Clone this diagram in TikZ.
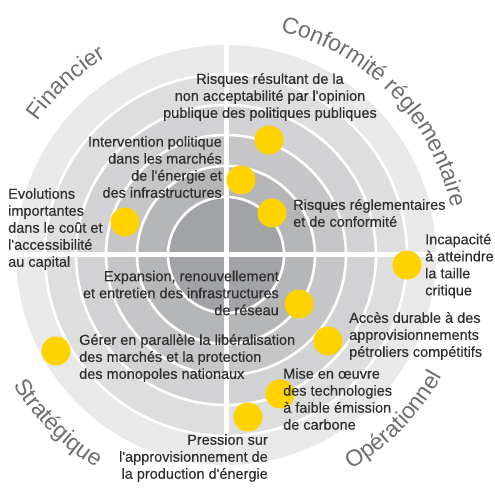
\documentclass[tikz,border=0pt]{standalone}
\usepackage{fontspec}
\setmainfont{Liberation Sans}[Ligatures=TeXOff]
\newfontfamily\riskfont{Liberation Sans}[Ligatures=TeXOff, FakeBold=0.35]
\usetikzlibrary{decorations.text}

\definecolor{eyyellow}{HTML}{FFD200}
\definecolor{ringA}{HTML}{A2A3A6}
\definecolor{ringB}{HTML}{B5B6B8}
\definecolor{ringC}{HTML}{C6C6C8}
\definecolor{ringD}{HTML}{D2D2D4}
\definecolor{ringE}{HTML}{DEDEDF}
\definecolor{ringF}{HTML}{E9E9EA}
\definecolor{txtgray}{HTML}{2E2E2E}
\definecolor{catgray}{HTML}{6D6E71}

\begin{document}
\begin{tikzpicture}[x=1pt, y=1pt,
    riskdot/.style={circle, fill=eyyellow, minimum size=29pt, inner sep=0pt},
    risktext/.style={text=txtgray, font=\riskfont\fontsize{14.5}{17}\selectfont, inner sep=0pt},
    catlabel/.style={decorate, decoration={text along path, text align=center, text color=catgray}}]
    \useasboundingbox (0,0) rectangle (495,487);
    \coordinate (ctr) at (226,232);

    % Draw the rings, outside first
    \fill[ringF] (ctr) circle (210pt);
    \fill[ringE] (ctr) circle (181pt);
    \fill[ringD] (ctr) circle (150pt);
    \fill[ringC] (ctr) circle (120pt);
    \fill[ringB] (ctr) circle (89pt);
    \fill[ringA] (ctr) circle (58pt);

    % White rings and cross
    \foreach \r in {58,89,120,150,181}
        \draw[white, line width=2.6pt] (ctr) circle (\r pt);
    \draw[white, line width=5pt] (226,22) -- (226,442);
    \draw[white, line width=5pt] (16,232) -- (436,232);

    % Category labels round the outside
    \path[catlabel, decoration={text={|\fontsize{23}{23}\selectfont|Financier}}]
        ([shift={(178:231pt)}]ctr) arc[start angle=178, end angle=88, radius=231pt];
    \path[catlabel, decoration={text={|\fontsize{23}{23}\selectfont|Conformité réglementaire}}]
        ([shift={(108:230pt)}]ctr) arc[start angle=108, end angle=-20, radius=230pt];
    \path[catlabel, decoration={text={|\fontsize{23}{23}\selectfont|Stratégique}}]
        ([shift={(180:249pt)}]ctr) arc[start angle=180, end angle=270, radius=249pt];
    \path[catlabel, decoration={text={|\fontsize{23}{23}\selectfont|Opérationnel}}]
        ([shift={(270:248pt)}]ctr) arc[start angle=270, end angle=361, radius=248pt];

    % Risk dots
    \node[riskdot] (opinion) at (269,347) {};
    \node[riskdot] (politique) at (241,307) {};
    \node[riskdot] (reglement) at (272,274) {};
    \node[riskdot] (capital) at (125,265) {};
    \node[riskdot] (taille) at (407,222) {};
    \node[riskdot] (reseau) at (299,183) {};
    \node[riskdot] (petrole) at (328,146) {};
    \node[riskdot] (monopole) at (56,136) {};
    \node[riskdot] (carbone) at (280,93) {};
    \node[riskdot] (pression) at (248,70) {};

    % Risk texts
    \node[risktext, align=center] (opiniontxt) at (270,390)
        {Risques résultant de la\\non acceptabilité par l'opinion\\publique des politiques publiques};
    \node[risktext, align=right, anchor=east] (politiquetxt) at (222,320)
        {Intervention politique\\dans les marchés\\de l'énergie et\\des infrastructures};
    \node[risktext, align=left, anchor=west] (reglementtxt) at (293,274)
        {Risques réglementaires\\et de conformité};
    \node[risktext, align=left, anchor=west] (capitaltxt) at (8,258)
        {Evolutions\\importantes\\dans le coût et\\l'accessibilité\\au capital};
    \node[risktext, align=left, anchor=west] (tailletxt) at (425,221)
        {Incapacité\\à atteindre\\la taille\\critique};
    \node[risktext, align=right, anchor=east] (reseautxt) at (279,194)
        {Expansion, renouvellement\\et entretien des infrastructures\\de réseau};
    \node[risktext, align=left, anchor=west] (petroletxt) at (349,151)
        {Accès durable à des\\approvisionnements\\pétroliers compétitifs};
    \node[risktext, align=left, anchor=west] (monopoletxt) at (79,129)
        {Gérer en parallèle la libéralisation\\des marchés et la protection\\des monopoles nationaux};
    \node[risktext, align=left, anchor=west] (carbonetxt) at (283,88)
        {Mise en œuvre\\des technologies\\à faible émission\\de carbone};
    \node[risktext, align=right, anchor=east] (pressiontxt) at (268,29)
        {Pression sur\\l'approvisionnement de\\la production d'énergie};
\end{tikzpicture}
\end{document}
